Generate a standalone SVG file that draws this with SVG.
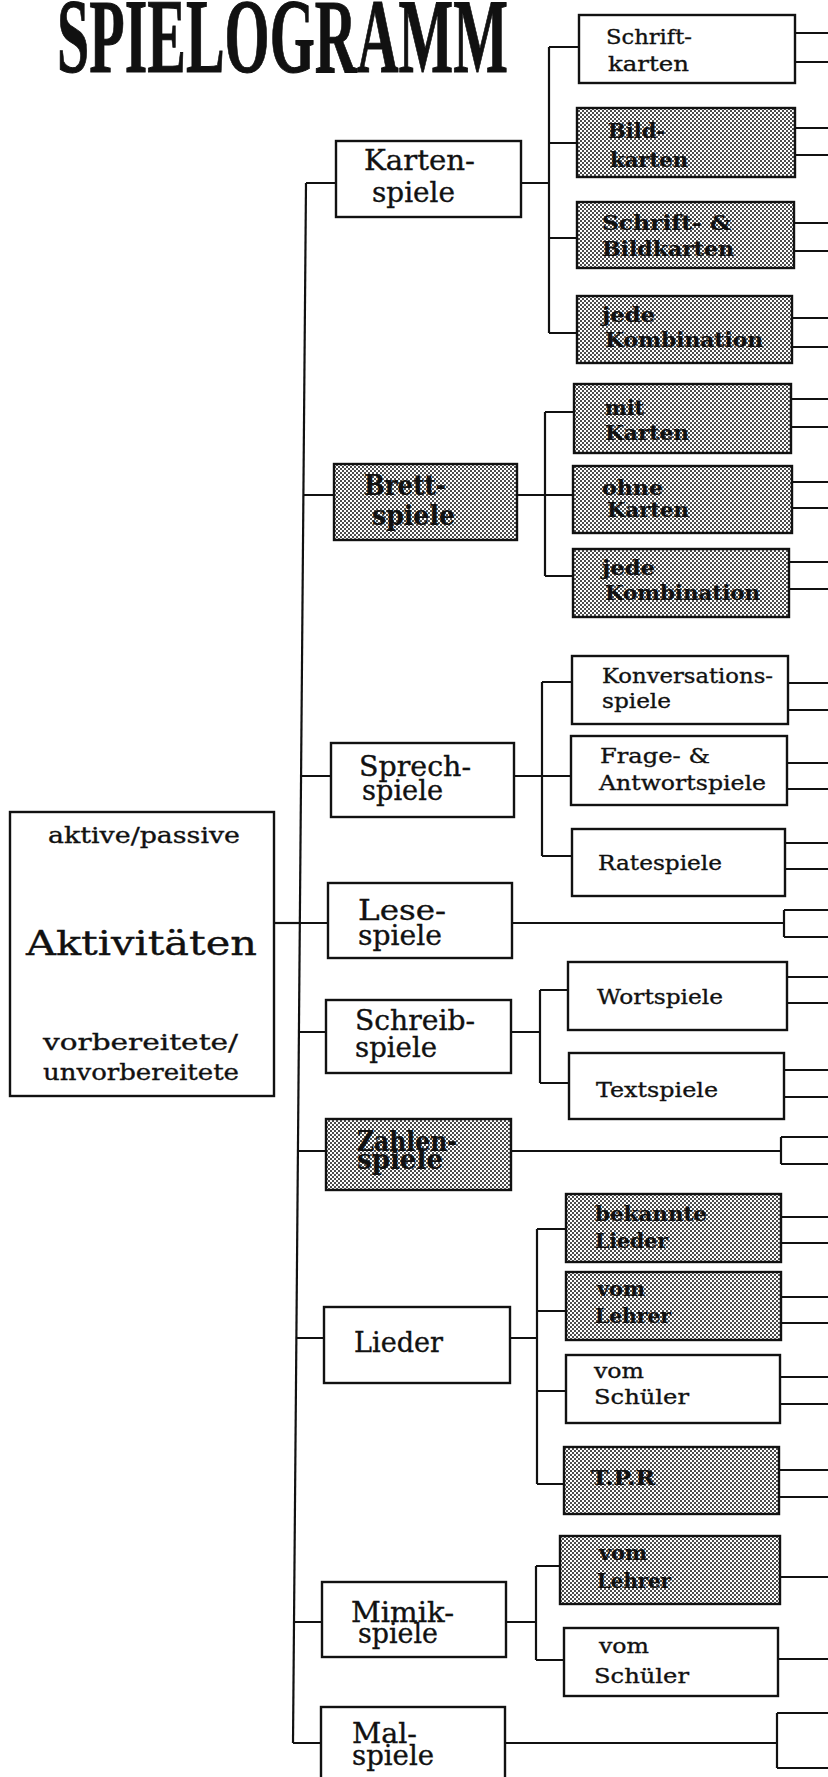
<svg xmlns="http://www.w3.org/2000/svg" width="828" height="1777" viewBox="0 0 828 1777">
<style>
.box{fill:#fff;stroke:#111;stroke-width:2.4}
.sh{fill:url(#dots);stroke:#111;stroke-width:2.4}
.c{stroke:#111;stroke-width:2.2;fill:none}
text{font-family:'DejaVu Serif','Liberation Serif',serif;fill:#111;stroke:#111;stroke-width:0.35}
.t1{font-size:27px}
.t2{font-size:21px}
.b{font-weight:bold;stroke-width:0.2}
.root{font-size:22px}
.big{font-size:33px}
.title{font-family:'Liberation Serif',serif;font-weight:bold;font-size:105px;stroke-width:1}
</style>
<defs>
<pattern id="dots" width="4" height="4" patternUnits="userSpaceOnUse">
<rect width="4" height="4" fill="#fff"/>
<circle cx="1" cy="1" r="0.95" fill="#000"/>
<circle cx="3" cy="3" r="0.95" fill="#000"/>
</pattern>
</defs>
<rect width="828" height="1777" fill="#fff"/>
<text class="title" x="57" y="72" textLength="451" lengthAdjust="spacingAndGlyphs">SPIELOGRAMM</text>

<g id="connectors">
<path class="c" d="M306 183 L293 1743"/>
<path class="c" d="M274 923 H300"/>
<path class="c" d="M306 183 H336 M303.4 495 H334 M301 776 H331 M299.8 923 H328 M298.9 1032 H326 M297.9 1151 H326 M296.4 1338 H324 M294 1622 H322 M293 1743 H321"/>
<path class="c" d="M521 183 H549 M549 47 V333 M549 47 H579 M549 143 H577 M549 238 H577 M549 333 H577"/>
<path class="c" d="M517 495 H545 M545 412 V576 M545 412 H574 M545 495 H573 M545 576 H573"/>
<path class="c" d="M514 776 H542 M542 682 V856 M542 682 H572 M542 776 H571 M542 856 H572"/>
<path class="c" d="M512 923 H784 M784 910 V937 M784 910 H828 M784 937 H828"/>
<path class="c" d="M511 1032 H540 M540 990 V1083 M540 990 H568 M540 1083 H569"/>
<path class="c" d="M511 1151 H781 M781 1137 V1164 M781 1137 H828 M781 1164 H828"/>
<path class="c" d="M510 1338 H537 M537 1229 V1484 M537 1229 H566 M537 1311 H566 M537 1391 H566 M537 1484 H564"/>
<path class="c" d="M506 1622 H536 M536 1566 V1660 M536 1566 H560 M536 1660 H564"/>
<path class="c" d="M505 1743 H777 M777 1713 V1768 M777 1713 H828 M777 1768 H828"/>
<path class="c" d="M795 33 H828 M795 62 H828 M795 128 H828 M795 155 H828 M794 223 H828 M794 251 H828 M792 318 H828 M792 347 H828"/>
<path class="c" d="M791 399 H828 M791 427 H828 M792 482 H828 M792 508 H828 M789 562 H828 M789 589 H828"/>
<path class="c" d="M788 683 H828 M788 710 H828 M787 763 H828 M787 789 H828 M785 843 H828 M785 869 H828"/>
<path class="c" d="M787 977 H828 M787 1003 H828 M784 1070 H828 M784 1097 H828"/>
<path class="c" d="M781 1217 H828 M781 1243 H828 M781 1297 H828 M781 1323 H828 M780 1377 H828 M780 1404 H828 M779 1470 H828 M779 1497 H828"/>
<path class="c" d="M780 1577 H828 M778 1659 H828"/>
</g>

<g id="root">
<rect class="box" x="10" y="812" width="264" height="284"/>
<text class="root" x="48" y="843" textLength="192" lengthAdjust="spacingAndGlyphs">aktive/passive</text>
<text class="big" x="26" y="955" textLength="231" lengthAdjust="spacingAndGlyphs">Aktivitäten</text>
<text class="root" x="43" y="1050" textLength="195" lengthAdjust="spacingAndGlyphs">vorbereitete/</text>
<text class="root" x="43" y="1080" textLength="196" lengthAdjust="spacingAndGlyphs">unvorbereitete</text>
</g>

<g id="kartenspiele">
<rect class="box" x="336" y="141" width="185" height="76"/>
<text class="t1" x="364" y="170" textLength="111" lengthAdjust="spacingAndGlyphs">Karten-</text>
<text class="t1" x="372" y="202" textLength="83" lengthAdjust="spacingAndGlyphs">spiele</text>
</g>
<g id="brettspiele">
<rect class="sh" x="334" y="464" width="183" height="76"/>
<text class="t1 b" x="364" y="495" textLength="82" lengthAdjust="spacingAndGlyphs">Brett-</text>
<text class="t1 b" x="372" y="525" textLength="83" lengthAdjust="spacingAndGlyphs">spiele</text>
</g>
<g id="sprechspiele">
<rect class="box" x="331" y="743" width="183" height="74"/>
<text class="t1" x="359" y="776" textLength="112" lengthAdjust="spacingAndGlyphs">Sprech-</text>
<text class="t1" x="362" y="800" textLength="81" lengthAdjust="spacingAndGlyphs">spiele</text>
</g>
<g id="lesespiele">
<rect class="box" x="328" y="883" width="184" height="75"/>
<text class="t1" x="358" y="920" textLength="88" lengthAdjust="spacingAndGlyphs">Lese-</text>
<text class="t1" x="358" y="945" textLength="84" lengthAdjust="spacingAndGlyphs">spiele</text>
</g>
<g id="schreibspiele">
<rect class="box" x="326" y="1000" width="185" height="73"/>
<text class="t1" x="355" y="1030" textLength="120" lengthAdjust="spacingAndGlyphs">Schreib-</text>
<text class="t1" x="355" y="1057" textLength="82" lengthAdjust="spacingAndGlyphs">spiele</text>
</g>
<g id="zahlenspiele">
<rect class="sh" x="326" y="1119" width="185" height="71"/>
<text class="t1 b" x="357" y="1151" textLength="100" lengthAdjust="spacingAndGlyphs">Zahlen-</text>
<text class="t1 b" x="357" y="1169" textLength="86" lengthAdjust="spacingAndGlyphs">spiele</text>
</g>
<g id="lieder">
<rect class="box" x="324" y="1307" width="186" height="76"/>
<text class="t1" x="354" y="1352" textLength="89" lengthAdjust="spacingAndGlyphs">Lieder</text>
</g>
<g id="mimikspiele">
<rect class="box" x="322" y="1582" width="184" height="75"/>
<text class="t1" x="351" y="1622" textLength="103" lengthAdjust="spacingAndGlyphs">Mimik-</text>
<text class="t1" x="358" y="1643" textLength="80" lengthAdjust="spacingAndGlyphs">spiele</text>
</g>
<g id="malspiele">
<rect class="box" x="321" y="1707" width="184" height="82"/>
<text class="t1" x="352" y="1743" textLength="65" lengthAdjust="spacingAndGlyphs">Mal-</text>
<text class="t1" x="352" y="1765" textLength="82" lengthAdjust="spacingAndGlyphs">spiele</text>
</g>

<g id="schriftkarten">
<rect class="box" x="579" y="15" width="216" height="68"/>
<text class="t2" x="606" y="44" textLength="86" lengthAdjust="spacingAndGlyphs">Schrift-</text>
<text class="t2" x="608" y="71" textLength="81" lengthAdjust="spacingAndGlyphs">karten</text>
</g>
<g id="bildkarten">
<rect class="sh" x="577" y="108" width="218" height="69"/>
<text class="t2 b" x="608" y="138" textLength="57" lengthAdjust="spacingAndGlyphs">Bild-</text>
<text class="t2 b" x="610" y="167" textLength="78" lengthAdjust="spacingAndGlyphs">karten</text>
</g>
<g id="schriftbildkarten">
<rect class="sh" x="577" y="202" width="217" height="66"/>
<text class="t2 b" x="602" y="230" textLength="129" lengthAdjust="spacingAndGlyphs">Schrift- &amp;</text>
<text class="t2 b" x="602" y="256" textLength="132" lengthAdjust="spacingAndGlyphs">Bildkarten</text>
</g>
<g id="jedekombination1">
<rect class="sh" x="577" y="296" width="215" height="67"/>
<text class="t2 b" x="602" y="322" textLength="53" lengthAdjust="spacingAndGlyphs">jede</text>
<text class="t2 b" x="605" y="347" textLength="158" lengthAdjust="spacingAndGlyphs">Kombination</text>
</g>
<g id="mitkarten">
<rect class="sh" x="574" y="384" width="217" height="69"/>
<text class="t2 b" x="605" y="415" textLength="39" lengthAdjust="spacingAndGlyphs">mit</text>
<text class="t2 b" x="605" y="440" textLength="84" lengthAdjust="spacingAndGlyphs">Karten</text>
</g>
<g id="ohnekarten">
<rect class="sh" x="573" y="466" width="219" height="67"/>
<text class="t2 b" x="602" y="495" textLength="61" lengthAdjust="spacingAndGlyphs">ohne</text>
<text class="t2 b" x="607" y="517" textLength="82" lengthAdjust="spacingAndGlyphs">Karten</text>
</g>
<g id="jedekombination2">
<rect class="sh" x="573" y="549" width="216" height="68"/>
<text class="t2 b" x="602" y="575" textLength="53" lengthAdjust="spacingAndGlyphs">jede</text>
<text class="t2 b" x="605" y="600" textLength="155" lengthAdjust="spacingAndGlyphs">Kombination</text>
</g>
<g id="konversationsspiele">
<rect class="box" x="572" y="656" width="216" height="68"/>
<text class="t2" x="602" y="683" textLength="171" lengthAdjust="spacingAndGlyphs">Konversations-</text>
<text class="t2" x="602" y="708" textLength="69" lengthAdjust="spacingAndGlyphs">spiele</text>
</g>
<g id="frageantwortspiele">
<rect class="box" x="571" y="736" width="216" height="69"/>
<text class="t2" x="600" y="763" textLength="110" lengthAdjust="spacingAndGlyphs">Frage- &amp;</text>
<text class="t2" x="599" y="790" textLength="167" lengthAdjust="spacingAndGlyphs">Antwortspiele</text>
</g>
<g id="ratespiele">
<rect class="box" x="572" y="829" width="213" height="67"/>
<text class="t2" x="598" y="870" textLength="124" lengthAdjust="spacingAndGlyphs">Ratespiele</text>
</g>
<g id="wortspiele">
<rect class="box" x="568" y="962" width="219" height="68"/>
<text class="t2" x="597" y="1004" textLength="126" lengthAdjust="spacingAndGlyphs">Wortspiele</text>
</g>
<g id="textspiele">
<rect class="box" x="569" y="1053" width="215" height="66"/>
<text class="t2" x="596" y="1097" textLength="122" lengthAdjust="spacingAndGlyphs">Textspiele</text>
</g>
<g id="bekanntelieder">
<rect class="sh" x="566" y="1194" width="215" height="68"/>
<text class="t2 b" x="595" y="1221" textLength="112" lengthAdjust="spacingAndGlyphs">bekannte</text>
<text class="t2 b" x="595" y="1248" textLength="73" lengthAdjust="spacingAndGlyphs">Lieder</text>
</g>
<g id="vomlehrer1">
<rect class="sh" x="566" y="1272" width="215" height="68"/>
<text class="t2 b" x="597" y="1296" textLength="48" lengthAdjust="spacingAndGlyphs">vom</text>
<text class="t2 b" x="595" y="1323" textLength="76" lengthAdjust="spacingAndGlyphs">Lehrer</text>
</g>
<g id="vomschueler1">
<rect class="box" x="566" y="1355" width="214" height="68"/>
<text class="t2" x="594" y="1378" textLength="50" lengthAdjust="spacingAndGlyphs">vom</text>
<text class="t2" x="594" y="1404" textLength="95" lengthAdjust="spacingAndGlyphs">Schüler</text>
</g>
<g id="tpr">
<rect class="sh" x="564" y="1447" width="215" height="67"/>
<text class="t2 b" x="591" y="1485" textLength="64" lengthAdjust="spacingAndGlyphs">T.P.R</text>
</g>
<g id="vomlehrer2">
<rect class="sh" x="560" y="1536" width="220" height="68"/>
<text class="t2 b" x="599" y="1560" textLength="48" lengthAdjust="spacingAndGlyphs">vom</text>
<text class="t2 b" x="597" y="1588" textLength="74" lengthAdjust="spacingAndGlyphs">Lehrer</text>
</g>
<g id="vomschueler2">
<rect class="box" x="564" y="1628" width="214" height="68"/>
<text class="t2" x="599" y="1653" textLength="50" lengthAdjust="spacingAndGlyphs">vom</text>
<text class="t2" x="594" y="1683" textLength="95" lengthAdjust="spacingAndGlyphs">Schüler</text>
</g>
</svg>
